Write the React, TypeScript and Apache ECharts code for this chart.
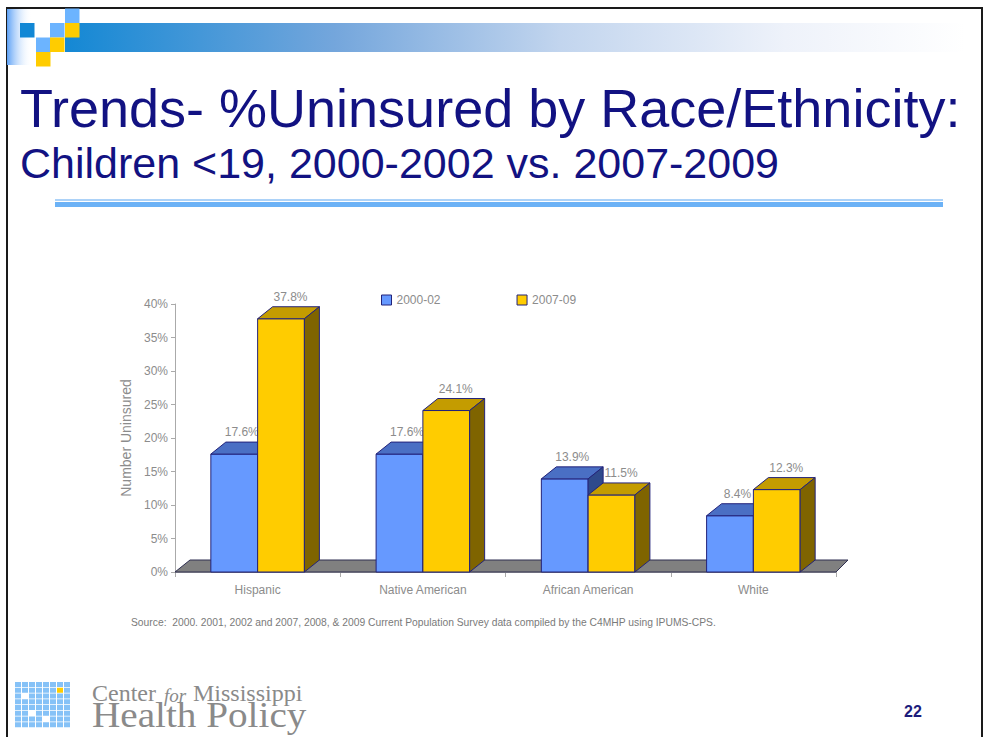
import React, { useEffect, useRef } from 'react';
import * as echarts from 'echarts';

const categories = ['Hispanic', 'Native American', 'African American', 'White'];
const seriesNames = ['2000-02', '2007-09'];
const values2000 = [17.6, 17.6, 13.9, 8.4];
const values2007 = [37.8, 24.1, 11.5, 12.3];
const yMin = 0;
const yMax = 40;
const yInterval = 5;

const SANS = '"Liberation Sans", Arial, sans-serif';
const SERIF = '"Liberation Serif", "Times New Roman", serif';
const DX = 15;
const DY = 12;
const BAR_FRAC = 0.283;
const EDGE = '#23237a';
const LABEL_GRAY = '#8c8c8c';

function barRenderer(side: number, front: string, top: string, sideCol: string) {
  return function (params: any, api: any) {
    const c = api.value(0) as number;
    const v = api.value(1) as number;
    const base = api.coord([c, 0]);
    const tp = api.coord([c, v]);
    const band = api.size([1, 0])[0];
    const bw = band * BAR_FRAC;
    const x0 = side < 0 ? base[0] - bw : base[0];
    const yb = base[1];
    const yt = tp[1];
    return {
      type: 'group',
      children: [
        {
          type: 'rect',
          shape: { x: x0, y: yt, width: bw, height: yb - yt },
          style: { fill: front, stroke: EDGE, lineWidth: 1 },
        },
        {
          type: 'polygon',
          shape: { points: [[x0, yt], [x0 + DX, yt - DY], [x0 + bw + DX, yt - DY], [x0 + bw, yt]] },
          style: { fill: top, stroke: EDGE, lineWidth: 1 },
        },
        {
          type: 'polygon',
          shape: { points: [[x0 + bw, yt], [x0 + bw + DX, yt - DY], [x0 + bw + DX, yb - DY], [x0 + bw, yb]] },
          style: { fill: sideCol, stroke: EDGE, lineWidth: 1 },
        },
        {
          type: 'text',
          x: x0 + bw / 2 + DX / 2 + (side > 0 ? 2 : 0),
          y: yt - DY - 4,
          style: {
            text: v.toFixed(1) + '%',
            fill: LABEL_GRAY,
            font: '12px ' + SANS,
            align: 'center',
            verticalAlign: 'bottom',
          },
        },
      ],
    };
  };
}

function floorRenderer(params: any) {
  const cs = params.coordSys;
  const x = cs.x;
  const yb = cs.y + cs.height;
  const w = cs.width;
  return {
    type: 'polygon',
    shape: { points: [[x, yb], [x + DX, yb - DY], [x + w + DX - 3, yb - DY], [x + w, yb]] },
    style: { fill: '#808080', stroke: '#2e2e50', lineWidth: 1 },
  };
}

function buildGraphics() {
  const g: any[] = [];
  // slide frame
  g.push({ type: 'rect', shape: { x: 7, y: 8, width: 975, height: 760 }, style: { fill: 'none', stroke: '#1a1a1a', lineWidth: 2 } });
  // banner
  g.push({
    type: 'rect', shape: { x: 7, y: 9, width: 25, height: 56 },
    style: { fill: new echarts.graphic.LinearGradient(0, 0, 1, 0, [{ offset: 0, color: '#5ea2f6' }, { offset: 1, color: 'rgba(255,255,255,0)' }]) },
  });
  g.push({
    type: 'rect', shape: { x: 65, y: 23, width: 900, height: 29 },
    style: {
      fill: new echarts.graphic.LinearGradient(0, 0, 1, 0, [
        { offset: 0, color: '#1488d4' },
        { offset: 0.3, color: '#74a6dc' },
        { offset: 0.55, color: '#c2d5ee' },
        { offset: 0.8, color: '#eef2fa' },
        { offset: 1, color: '#ffffff' },
      ]),
    },
  });
  const sq = (x: number, y: number, c: string) =>
    g.push({ type: 'rect', shape: { x, y, width: 14.5, height: 14.5 }, style: { fill: c } });
  sq(20, 23, '#1187d5');
  sq(50, 23, '#6cb4ff');
  sq(65, 8.5, '#6cb4ff');
  sq(65, 23, '#ffcc00');
  sq(36, 37.5, '#6cb4ff');
  sq(50, 37.5, '#ffcc00');
  sq(36, 52, '#ffcc00');
  // titles
  g.push({
    type: 'text', x: 20, y: 108,
    style: { text: 'Trends- %Uninsured by Race/Ethnicity:', fill: '#121282', font: '54px ' + SANS, verticalAlign: 'middle' },
  });
  g.push({
    type: 'text', x: 20, y: 163,
    style: { text: 'Children <19, 2000-2002 vs. 2007-2009', fill: '#121282', font: '43px ' + SANS, verticalAlign: 'middle' },
  });
  // separator
  g.push({ type: 'rect', shape: { x: 55, y: 199, width: 888, height: 2 }, style: { fill: '#acd2f8' } });
  g.push({ type: 'rect', shape: { x: 55, y: 202, width: 888, height: 5 }, style: { fill: '#6cb2f6' } });
  // source
  g.push({
    type: 'text', x: 131, y: 622,
    style: {
      text: 'Source:  2000. 2001, 2002 and 2007, 2008, & 2009 Current Population Survey data compiled by the C4MHP using IPUMS-CPS.',
      fill: '#7a7a7a', font: '10.3px ' + SANS, verticalAlign: 'middle',
    },
  });
  // logo grid
  const whites = ['2-1', '5-2', '6-4'];
  for (let r = 0; r < 8; r++) {
    for (let c = 0; c < 8; c++) {
      const key = r + '-' + c;
      let fill = '#86c2f7';
      if (whites.indexOf(key) >= 0) fill = '#ffffff';
      if (r === 1 && c === 6) fill = '#ffcc00';
      g.push({ type: 'rect', shape: { x: 15 + c * 7, y: 682 + r * 5.75, width: 6, height: 5 }, style: { fill } });
    }
  }
  g.push({ type: 'text', x: 92, y: 693, style: { text: 'Center', fill: '#8a8a8a', font: '24px ' + SERIF, verticalAlign: 'middle' } });
  g.push({ type: 'text', x: 175, y: 695, style: { text: 'for', fill: '#8a8a8a', font: 'italic 19px ' + SERIF, align: 'center', verticalAlign: 'middle' } });
  g.push({ type: 'text', x: 193, y: 693, style: { text: 'Mississippi', fill: '#8a8a8a', font: '24px ' + SERIF, verticalAlign: 'middle' } });
  g.push({ type: 'text', x: 92, y: 715, scaleX: 1.12, style: { text: 'Health Policy', fill: '#8a8a8a', font: '35px ' + SERIF, verticalAlign: 'middle' } });
  // page number
  g.push({ type: 'text', x: 913, y: 711, style: { text: '22', fill: '#1c1c7c', font: 'bold 16px ' + SANS, align: 'center', verticalAlign: 'middle' } });
  return g;
}

export default function App() {
  const ref = useRef<HTMLDivElement>(null);
  useEffect(() => {
    if (!ref.current) return;
    const chart = echarts.init(ref.current, null, { renderer: 'svg' });
    const d2000 = values2000.map((v, i) => [i, v]);
    const d2007 = values2007.map((v, i) => [i, v]);
    chart.setOption({
      animation: false,
      backgroundColor: '#ffffff',
      textStyle: { fontFamily: SANS },
      grid: { left: 175, right: 149, top: 304, bottom: 165, containLabel: false },
      legend: {
        data: seriesNames,
        left: 381,
        top: 294,
        padding: 0,
        icon: 'rect',
        itemWidth: 10,
        itemHeight: 10,
        itemGap: 76,
        textStyle: { color: LABEL_GRAY, fontSize: 12, fontFamily: SANS },
        itemStyle: { borderColor: EDGE, borderWidth: 1 },
      },
      xAxis: {
        type: 'category',
        data: categories,
        axisLine: { show: true, lineStyle: { color: '#aaaaaa' } },
        axisTick: { show: true, length: 5, lineStyle: { color: '#aaaaaa' } },
        axisLabel: { color: LABEL_GRAY, fontSize: 12, margin: 12 },
        splitLine: { show: false },
      },
      yAxis: {
        type: 'value',
        min: yMin,
        max: yMax,
        interval: yInterval,
        name: 'Number Uninsured',
        nameLocation: 'middle',
        nameGap: 41,
        nameRotate: 90,
        nameTextStyle: { color: LABEL_GRAY, fontSize: 14 },
        axisLine: { show: true, lineStyle: { color: '#aaaaaa' } },
        axisTick: { show: true, length: 4, lineStyle: { color: '#aaaaaa' } },
        axisLabel: { formatter: '{value}%', color: LABEL_GRAY, fontSize: 12, margin: 7 },
        splitLine: { show: false },
      },
      series: [
        {
          type: 'custom',
          name: 'floor',
          data: [[0, 0]],
          encode: { x: 0, y: 1 },
          renderItem: floorRenderer,
          silent: true,
        },
        {
          type: 'custom',
          name: seriesNames[0],
          data: d2000,
          encode: { x: 0, y: 1 },
          itemStyle: { color: '#6699ff' },
          renderItem: barRenderer(-1, '#6699ff', '#4a6fc4', '#2f4a8c'),
        },
        {
          type: 'custom',
          name: seriesNames[1],
          data: d2007,
          encode: { x: 0, y: 1 },
          itemStyle: { color: '#ffcc00' },
          renderItem: barRenderer(1, '#ffcc00', '#c49c00', '#7f6400'),
        },
      ],
      graphic: { elements: buildGraphics() },
    });
    return () => chart.dispose();
  }, []);
  return (
    <div
      ref={ref}
      style={{ position: 'fixed', left: 0, top: 0, width: 985, height: 737, background: '#fff' }}
    />
  );
}
